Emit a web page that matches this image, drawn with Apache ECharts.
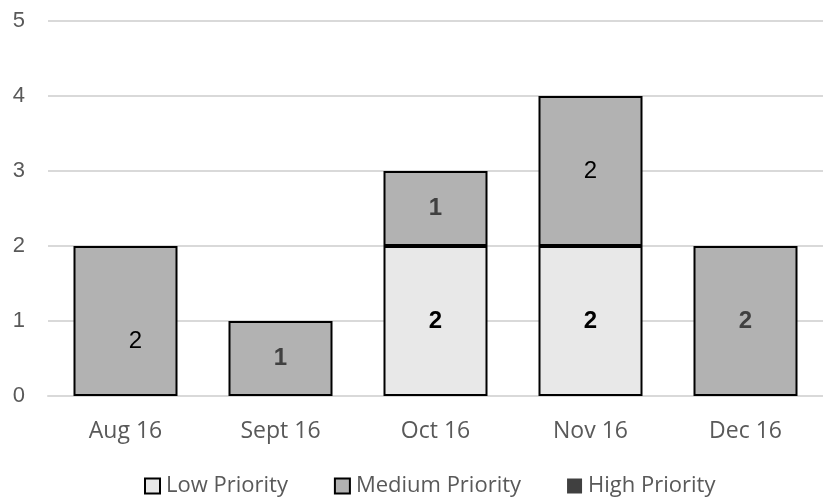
<!DOCTYPE html>
<html>
<head>
<meta charset="utf-8">
<script src="https://cdn.jsdelivr.net/npm/echarts@6/dist/echarts.min.js"></script>
<style>
  html, body { margin: 0; padding: 0; background: #fff; }
  #chart { width: 823px; height: 498px; }
</style>
</head>
<body>
<div id="chart"></div>
<script>
// Monthly issue counts by priority
const months = ['Aug 16', 'Sept 16', 'Oct 16', 'Nov 16', 'Dec 16'];
const lowPriority = [0, 0, 2, 2, 0];
const mediumPriority = [2, 1, 1, 2, 2];
const highPriority = [0, 0, 0, 0, 0];
const yTicks = [0, 1, 2, 3, 4, 5];

const labelFont = "'Liberation Sans Narrow', 'Liberation Sans', Arial, sans-serif";

// Per-bar label styling (weight, colour, nudge) keyed by series then month index
const labelLook = {
  low: {
    2: { fontWeight: 'bold', color: '#000' },
    3: { fontWeight: 'bold', color: '#000' }
  },
  medium: {
    0: { fontWeight: 'normal', color: '#000', offset: [10, 20] },
    1: { fontWeight: 'bold', color: '#404040' },
    2: { fontWeight: 'bold', color: '#404040' },
    3: { fontWeight: 'normal', color: '#000' },
    4: { fontWeight: 'bold', color: '#404040' }
  }
};

function toBars(values, key) {
  return values.map((v, i) => {
    if (v === 0) return '-';
    const look = (labelLook[key] && labelLook[key][i]) || {};
    return { value: v, label: Object.assign({}, look) };
  });
}

const barLabel = {
  show: true,
  position: 'inside',
  fontFamily: labelFont,
  fontSize: 24,
  color: '#000'
};

const chart = echarts.init(document.getElementById('chart'), null, { renderer: 'canvas' });

chart.setOption({
  animation: false,
  backgroundColor: '#fff',
  grid: { left: 48, right: -3, top: 21, bottom: 102, containLabel: false },
  legend: {
    top: 468,
    left: 139,
    itemWidth: 15,
    itemHeight: 15,
    itemGap: 46,
    icon: 'rect',
    textStyle: { fontFamily: "'Open Sans', sans-serif", fontSize: 22, lineHeight: 26, color: '#595959', padding: [0, 0, 0, 1] },
    data: ['Low Priority', 'Medium Priority', 'High Priority']
  },
  xAxis: {
    type: 'category',
    data: months,
    axisLine: { show: true, lineStyle: { color: '#d9d9d9', width: 2 } },
    axisTick: { show: false },
    axisLabel: { fontFamily: "'Open Sans', sans-serif", fontSize: 23, color: '#595959', margin: 24 }
  },
  yAxis: {
    type: 'value',
    min: yTicks[0],
    max: yTicks[yTicks.length - 1],
    interval: 1,
    axisLine: { show: false },
    axisTick: { show: false },
    splitLine: { lineStyle: { color: '#d9d9d9', width: 2 } },
    axisLabel: { fontFamily: "'Liberation Sans', Arial, sans-serif", fontSize: 22, color: '#595959', margin: 23 }
  },
  series: [
    {
      name: 'Low Priority',
      type: 'bar',
      stack: 'total',
      barWidth: 104,
      data: toBars(lowPriority, 'low'),
      itemStyle: { color: '#e8e8e8', borderColor: '#000', borderWidth: 2 },
      label: barLabel
    },
    {
      name: 'Medium Priority',
      type: 'bar',
      stack: 'total',
      barWidth: 104,
      data: toBars(mediumPriority, 'medium'),
      itemStyle: { color: '#b2b2b2', borderColor: '#000', borderWidth: 2 },
      label: barLabel
    },
    {
      name: 'High Priority',
      type: 'bar',
      stack: 'total',
      barWidth: 104,
      data: toBars(highPriority, 'high'),
      itemStyle: { color: '#404040', borderWidth: 0 },
      label: barLabel
    }
  ]
});
</script>
</body>
</html>
